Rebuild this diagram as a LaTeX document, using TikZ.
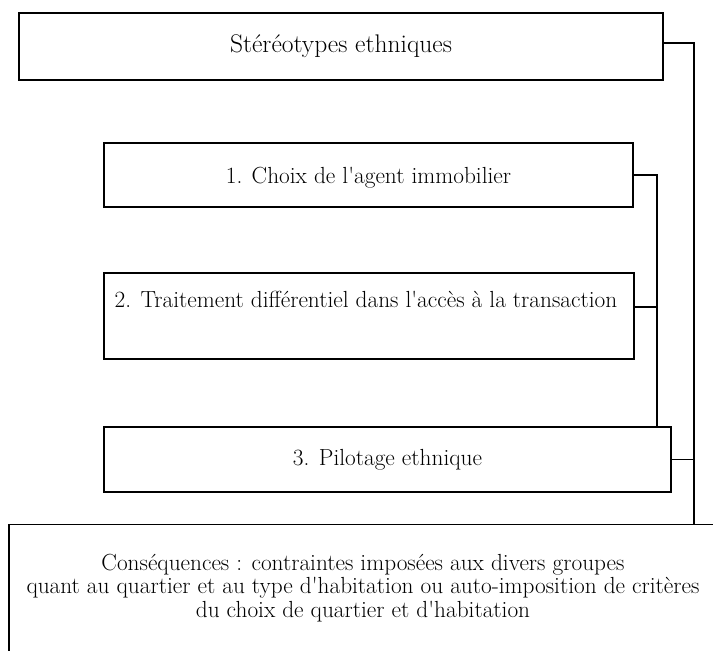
\documentclass[tikz,border=0pt]{standalone}
\usepackage{fontspec}
\usepackage{tikz}
\usetikzlibrary{positioning}
\newcommand{\apos}{\textquotesingle}
\tikzset{
  box/.style = {rectangle, draw=black, line width=1.3pt, inner sep=0pt,
    align=center, font=\fontsize{23.3}{23.5}\selectfont},
  txt/.style = {align=center, inner sep=0pt, font=\fontsize{23.3}{23.5}\selectfont},
  lien/.style = {draw=black, line width=1.3pt}
}

\begin{document}
\begin{tikzpicture}[x=1pt, y=-1pt]
\useasboundingbox (0,0) rectangle (713,651);
\clip (0,0) rectangle (713,651);
% boites
\node [box, minimum width=644pt, minimum height=67pt, font=\fontsize{25.5}{26}\selectfont] (stereo) at (341,46.5) {Stéréotypes ethniques};
\node [box, minimum width=529pt, minimum height=64pt, text depth=0pt] (choix) at (368.5,175) {1. Choix de l\apos agent immobilier};
\node [box, minimum width=530pt, minimum height=86pt] (traitement) at (369,316) {};
\node [txt] (traitementtxt) at (366,299) {2. Traitement différentiel dans l\apos accès à la transaction};
\node [box, minimum width=567pt, minimum height=65pt] (pilotage) at (387.5,459.5) {3. Pilotage ethnique};
\node [box, minimum width=708pt, minimum height=150pt] (csq) at (363,599.5) {};
\node [txt] (csqtxt) at (363,588) {Conséquences : contraintes imposées aux divers groupes\\
  quant au quartier et au type d\apos habitation ou auto-imposition de critères\\
  du choix de quartier et d\apos habitation};
% liens
\coordinate (railext) at (694,43);
\coordinate (railint) at (657,175);
\draw [lien] ([yshift=3.5pt]stereo.east) -- (railext) -- (railext |- csq.north);
\draw [lien] (choix.east) -- (railint) -- (railint |- pilotage.north);
\draw [lien] ([yshift=9pt]traitement.east) -- ([yshift=9pt]traitement.east -| railint);
\draw [lien] (pilotage.east) -- (pilotage.east -| railext);
\end{tikzpicture}
\end{document}
